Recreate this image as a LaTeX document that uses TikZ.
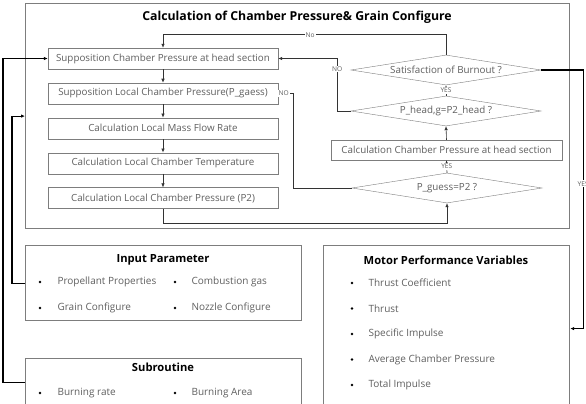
\documentclass[tikz,border=0pt]{standalone}
\usepackage{fontspec}
\setmainfont{Open Sans}
\usepackage{tikz}
\usetikzlibrary{arrows.meta,positioning,calc,shapes.geometric}
\definecolor{boxgray}{RGB}{125,125,125}
\definecolor{txtgray}{RGB}{95,95,95}
\tikzset{
  flow/.style={x=1pt,y=-1pt,>={Latex[length=4pt,width=3.5pt]},
    every node/.style={font=\fontsize{9.8}{10}\selectfont,text=txtgray}},
  stepbox/.style={draw=boxgray,fill=white,minimum width=230pt,minimum height=21pt,inner sep=0pt},
  check/.style={diamond,draw=boxgray,fill=white,aspect=6.3,minimum width=190pt,
                minimum height=30pt,inner sep=0pt},
  panel/.style={draw=boxgray,line width=1.2pt,anchor=north west,inner sep=0pt},
  heading/.style={font=\fontsize{11.2}{12}\selectfont\bfseries,text=black},
  item/.style={anchor=west,font=\fontsize{10}{11}\selectfont},
  dot/.style={circle,fill=black,inner sep=0pt,minimum size=2.6pt},
  arr/.style={->,draw=black!80,line width=0.6pt},
  link/.style={->,draw=black,line width=1.1pt},
  lbl/.style={fill=white,inner sep=1pt,font=\fontsize{6.6}{7}\selectfont}}

\begin{document}
\begin{tikzpicture}[flow,node distance=13.5pt]
  \clip (0,0) rectangle (586,404);
  % panels
  \node[panel,minimum width=544pt,minimum height=225pt] (calc) at (25,3) {};
  \node[panel,minimum width=276pt,minimum height=75pt] (input) at (25,245) {};
  \node[panel,minimum width=276pt,minimum height=48pt] (sub) at (25,358) {};
  \node[panel,minimum width=246pt,minimum height=166pt] (motor) at (323,245) {};
  \node[heading,font=\fontsize{12.3}{13}\selectfont\bfseries] (calctitle) at (297,17)
    {Calculation of Chamber Pressure\& Grain Configure};
  \node[heading] (inputtitle) at (163,260) {Input Parameter};
  \node[heading] (subtitle) at (163,367) {Subroutine};
  \node[heading] (motortitle) at (446,260) {Motor Performance Variables};

  % main loop
  \node[stepbox] (sup) at (163,58.5) {Supposition Chamber Pressure at head section};
  \node[stepbox,below=of sup] (local) {Supposition Local Chamber Pressure(P\_gaess)};
  \node[stepbox,below=of local] (mass) {Calculation Local Mass Flow Rate};
  \node[stepbox,below=of mass] (temp) {Calculation Local Chamber Temperature};
  \node[stepbox,below=of temp] (ptwo) {Calculation Local Chamber Pressure (P2)};

  \node[check] (burn) at (446,70) {Satisfaction of Burnout ?};
  \node[check] (headchk) at (446,111) {P\_head,g=P2\_head ?};
  \node[stepbox,minimum width=231pt,minimum height=20pt] (headcalc) at (446.5,150)
    {Calculation Chamber Pressure at head section};
  \node[check] (guess) at (447,188) {P\_guess=P2 ?};

  \draw[arr] (sup) -- (local);
  \draw[arr] (local) -- (mass);
  \draw[arr] (mass) -- (temp);
  \draw[arr] (temp) -- (ptwo);
  \draw[arr] (ptwo.south) -- ++(0,14) -| (guess.south);
  \draw[arr] (guess.north) -- (headcalc.south) node[midway,lbl] {YES};
  \draw[arr] (headcalc.north) -- (headchk.south);
  \draw[arr] (headchk.north) -- (burn.south) node[midway,lbl] {YES};
  \draw[arr] (guess.west) -| ($(local.east)+(15,0)$) -- (local.east)
    node[pos=0.64,lbl] {NO};
  \draw[arr] (headchk.west) -| ($(sup.east)+(59,0)$) node[pos=0.9,lbl] {NO} -- (sup.east);
  \draw[arr] (burn.north) -- ++(0,-20) -| (sup.north) node[pos=0.24,lbl] {No};

  % outer links
  \draw[link] (burn.east) -- ++(42,0) |- (motor.east) node[pos=0.22,lbl] {YES};
  \draw[link] (input.west) -- ++(-13,0) |- (calc.west);
  \draw[link] (sub.west) -- ++(-22,0) |- (sup.west);

  % input parameter
  \node[dot] (ind1) at (40,282) {};
  \node[item] (in1) at (54,282) {Propellant Properties};
  \node[dot] (ind2) at (175,282) {};
  \node[item] (in2) at (188,282) {Combustion gas};
  \node[dot] (ind3) at (40,308) {};
  \node[item] (in3) at (54,308) {Grain Configure};
  \node[dot] (ind4) at (175,308) {};
  \node[item] (in4) at (188,308) {Nozzle Configure};

  % subroutine
  \node[dot] (sbd1) at (40,393) {};
  \node[item] (sb1) at (54,393) {Burning rate};
  \node[dot] (sbd2) at (175,393) {};
  \node[item] (sb2) at (188,393) {Burning Area};

  % motor performance
  \foreach \txt [count=\i] in {Thrust Coefficient,Thrust,Specific Impulse,
      Average Chamber Pressure,Total Impulse} {
    \node[dot] (mpd\i) at (352,257.5+25.5*\i) {};
    \node[item] (mp\i) at (365,257.5+25.5*\i) {\txt};
  }
\end{tikzpicture}
\end{document}
